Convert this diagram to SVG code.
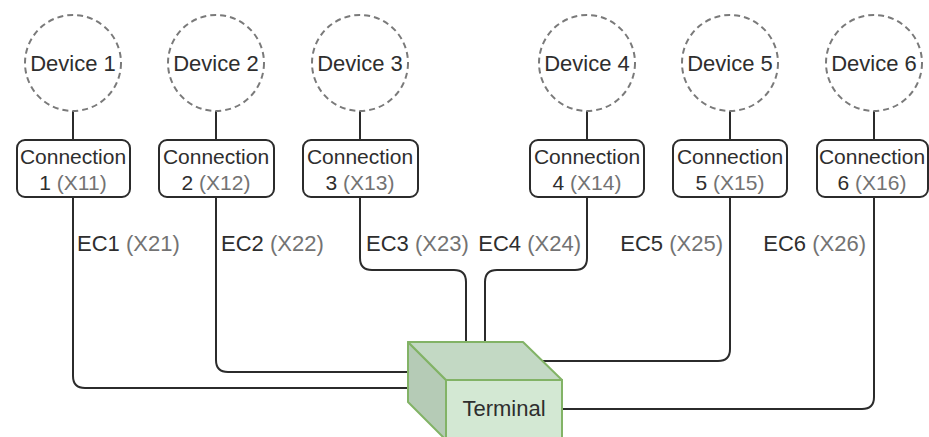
<svg xmlns="http://www.w3.org/2000/svg" width="929" height="437" viewBox="0 0 929 437">
<style>
.dev{fill:#fff;stroke:#7a7a7a;stroke-width:2;stroke-dasharray:6 4}
.box{fill:#fff;stroke:#2b2b2b;stroke-width:2}
.ln{fill:none;stroke:#2b2b2b;stroke-width:2}
.t{font-family:"Liberation Sans",Arial,sans-serif;fill:#2e2e2e;text-anchor:middle}
.lt{font-family:"Liberation Sans",Arial,sans-serif;fill:#2e2e2e;font-size:22px}
.g{fill:#737373}
.cube{stroke:#82b366;stroke-width:2;stroke-linejoin:round}
</style>
<rect width="929" height="437" fill="#fff"/>
<g id="connectors">
<path class="ln" d="M73 111V140M216 111V140M360 111V140M587 111V140M730 111V140M874 111V140"/>
<path class="ln" d="M73 197V376Q73 388 85 388H408"/>
<path class="ln" d="M216 197V360Q216 372 228 372H408"/>
<path class="ln" d="M360 197V258Q360 270 372 270H454Q466 270 466 282V342"/>
<path class="ln" d="M587 197V258Q587 270 575 270H497Q485 270 485 282V342"/>
<path class="ln" d="M730 197V349Q730 361 718 361H541"/>
<path class="ln" d="M874 197V397Q874 409 862 409H562"/>
<text class="lt" x="77" y="251">EC1 <tspan class="g">(X21)</tspan></text>
<text class="lt" x="221" y="251">EC2 <tspan class="g">(X22)</tspan></text>
<text class="lt" x="366" y="251">EC3 <tspan class="g">(X23)</tspan></text>
<text class="lt" x="581" y="251" text-anchor="end">EC4 <tspan class="g">(X24)</tspan></text>
<text class="lt" x="723" y="251" text-anchor="end">EC5 <tspan class="g">(X25)</tspan></text>
<text class="lt" x="866" y="251" text-anchor="end">EC6 <tspan class="g">(X26)</tspan></text>
</g>
<g id="device1"><circle class="dev" cx="73" cy="63" r="48"/><text class="t" x="73" y="71" font-size="22">Device 1</text></g>
<g id="device2"><circle class="dev" cx="216" cy="63" r="48"/><text class="t" x="216" y="71" font-size="22">Device 2</text></g>
<g id="device3"><circle class="dev" cx="360" cy="63" r="48"/><text class="t" x="360" y="71" font-size="22">Device 3</text></g>
<g id="device4"><circle class="dev" cx="587" cy="63" r="48"/><text class="t" x="587" y="71" font-size="22">Device 4</text></g>
<g id="device5"><circle class="dev" cx="730" cy="63" r="48"/><text class="t" x="730" y="71" font-size="22">Device 5</text></g>
<g id="device6"><circle class="dev" cx="874" cy="63" r="48"/><text class="t" x="874" y="71" font-size="22">Device 6</text></g>
<g id="conn1"><rect class="box" x="17" y="140" width="113" height="57" rx="8"/><text class="t" x="73" y="164" font-size="21">Connection</text><text class="t" x="73" y="190" font-size="21">1 <tspan class="g">(X11)</tspan></text></g>
<g id="conn2"><rect class="box" x="159" y="140" width="115" height="57" rx="8"/><text class="t" x="216" y="164" font-size="21">Connection</text><text class="t" x="216" y="190" font-size="21">2 <tspan class="g">(X12)</tspan></text></g>
<g id="conn3"><rect class="box" x="303" y="140" width="115" height="57" rx="8"/><text class="t" x="360" y="164" font-size="21">Connection</text><text class="t" x="360" y="190" font-size="21">3 <tspan class="g">(X13)</tspan></text></g>
<g id="conn4"><rect class="box" x="530" y="140" width="114" height="57" rx="8"/><text class="t" x="587" y="164" font-size="21">Connection</text><text class="t" x="587" y="190" font-size="21">4 <tspan class="g">(X14)</tspan></text></g>
<g id="conn5"><rect class="box" x="673" y="140" width="114" height="57" rx="8"/><text class="t" x="730" y="164" font-size="21">Connection</text><text class="t" x="730" y="190" font-size="21">5 <tspan class="g">(X15)</tspan></text></g>
<g id="conn6"><rect class="box" x="817" y="140" width="111" height="57" rx="8"/><text class="t" x="872" y="164" font-size="21">Connection</text><text class="t" x="872" y="190" font-size="21">6 <tspan class="g">(X16)</tspan></text></g>
<g id="terminal">
<polygon class="cube" fill="#b5cbb6" points="408,342 446,380 446,440 408,402"/>
<polygon class="cube" fill="#c3d9c4" points="408,342 523,342 562,380 446,380"/>
<rect class="cube" fill="#d3e8d3" x="446" y="380" width="116" height="60"/>
<text class="t" x="504" y="416" font-size="22">Terminal</text>
</g>
</svg>
